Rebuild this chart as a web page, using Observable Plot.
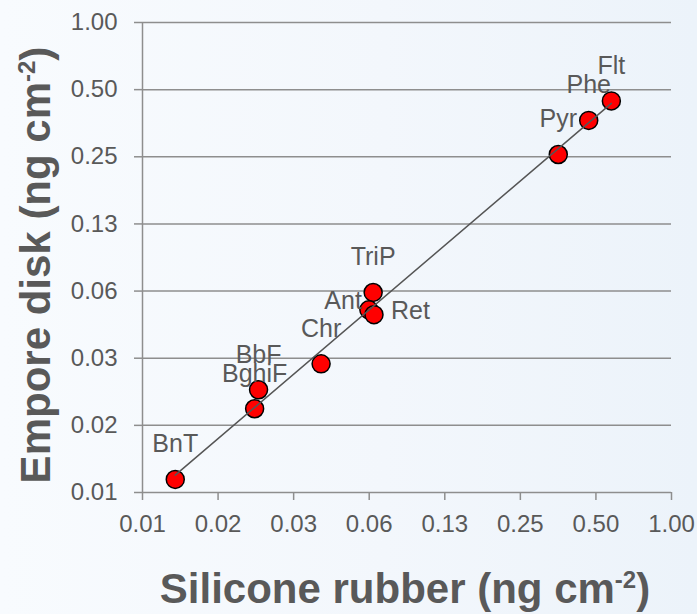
<!DOCTYPE html>
<html>
<head>
<meta charset="utf-8">
<script src="https://cdn.jsdelivr.net/npm/d3@7"></script>
<script src="https://cdn.jsdelivr.net/npm/@observablehq/plot@0.6"></script>
<style>
  html, body { margin: 0; padding: 0; }
  body {
    width: 697px; height: 614px; overflow: hidden;
    background: linear-gradient(90deg, #f8fbfe 0%, #f3f7fc 55%, #ecf3fa 100%);
    font-family: "Liberation Sans", Arial, Helvetica, sans-serif;
  }
  #chart svg { display: block; }
</style>
</head>
<body>
<div id="chart"></div>
<script>
// PAH concentrations measured by two passive samplers (ng cm-2)
const compounds      = ["BnT", "BghiF", "BbF", "Chr", "TriP", "Ant", "Ret", "Pyr", "Phe", "Flt"];
const siliconeRubber = [0.01055, 0.02185, 0.02265, 0.0402, 0.0648, 0.0623, 0.0653, 0.354, 0.468, 0.576];
const emporeDisk     = [0.00894, 0.01855, 0.02257, 0.0295, 0.0616, 0.0515, 0.0490, 0.256, 0.364, 0.445];

// log2 axis ticks and their printed labels
const tickValues = [0.0078125, 0.015625, 0.03125, 0.0625, 0.125, 0.25, 0.5, 1];
const tickLabels = ["0.01", "0.02", "0.03", "0.06", "0.13", "0.25", "0.50", "1.00"];

const points = compounds.map((name, i) => ({name, x: siliconeRubber[i], y: emporeDisk[i]}));

// power-law trend line: least squares fit in log space, spanning the data range
const lx = siliconeRubber.map(Math.log2);
const ly = emporeDisk.map(Math.log2);
const mx = d3.mean(lx), my = d3.mean(ly);
const slope = d3.sum(lx, (v, i) => (v - mx) * (ly[i] - my)) / d3.sum(lx, v => (v - mx) ** 2);
const intercept = my - slope * mx;
const trend = d3.extent(siliconeRubber).map(x => ({x, y: 2 ** (intercept + slope * Math.log2(x))}));

// label placement: above the point unless stated otherwise
const above = {textAnchor: "middle", dx: 0, dy: -35};
const placement = {
  Ant: {textAnchor: "end", dx: -7, dy: -9},
  Ret: {textAnchor: "start", dx: 17, dy: -4}
};
const groups = [above, placement.Ant, placement.Ret];
const placeOf = d => placement[d.name] || above;

const fmt = d => tickLabels[tickValues.indexOf(d)];
const textColor = "#595959";
const lineColor = "#8e8e8e";
const font = "'Liberation Sans', Arial, Helvetica, sans-serif";

const plot = Plot.plot({
  width: 697,
  height: 614,
  marginLeft: 142,
  marginRight: 26,
  marginTop: 22,
  marginBottom: 122,
  style: {background: "transparent", fontFamily: font, overflow: "visible"},
  x: {type: "log", base: 2, domain: [tickValues[0], 1]},
  y: {type: "log", base: 2, domain: [tickValues[0], 1]},
  marks: [
    Plot.ruleY(tickValues, {stroke: lineColor, strokeWidth: 1.5}),
    Plot.ruleX([tickValues[0]], {stroke: lineColor, strokeWidth: 1.5}),
    Plot.axisY({ticks: tickValues, tickFormat: fmt, tickSize: 8, tickPadding: 17,
      stroke: lineColor, strokeWidth: 1.5, fill: textColor, fontSize: 24, label: null}),
    Plot.axisX({ticks: tickValues, tickFormat: fmt, tickSize: 8, tickPadding: 14,
      stroke: lineColor, strokeWidth: 1.5, fill: textColor, fontSize: 24, label: null}),
    Plot.dot(points, {x: "x", y: "y", r: 9, fill: "#ff0000", stroke: "#000", strokeWidth: 1.5}),
    Plot.line(trend, {x: "x", y: "y", stroke: "#555", strokeWidth: 1.5}),
    ...groups.map(g =>
      Plot.text(points.filter(d => placeOf(d) === g), {
        x: "x", y: "y", text: "name",
        textAnchor: g.textAnchor, dx: g.dx, dy: g.dy,
        fill: textColor, fontSize: 25
      }))
  ]
});

// axis titles with superscript units
const svg = d3.select(plot);
function title(sel, main, sup, tail) {
  sel.attr("text-anchor", "middle")
     .attr("font-size", 42)
     .attr("font-weight", "bold")
     .attr("fill", textColor)
     .attr("font-family", font);
  sel.append("tspan").text(main);
  sel.append("tspan").attr("font-size", 24).attr("dy", -15).text(sup);
  sel.append("tspan").attr("dy", 15).text(tail);
}
svg.append("text").attr("x", 405).attr("y", 603)
   .call(title, "Silicone rubber (ng cm", "-2", ")");
svg.append("text").attr("transform", "translate(50,265) rotate(-90)")
   .call(title, "Empore disk (ng cm", "-2", ")");

document.getElementById("chart").append(plot);
</script>
</body>
</html>
